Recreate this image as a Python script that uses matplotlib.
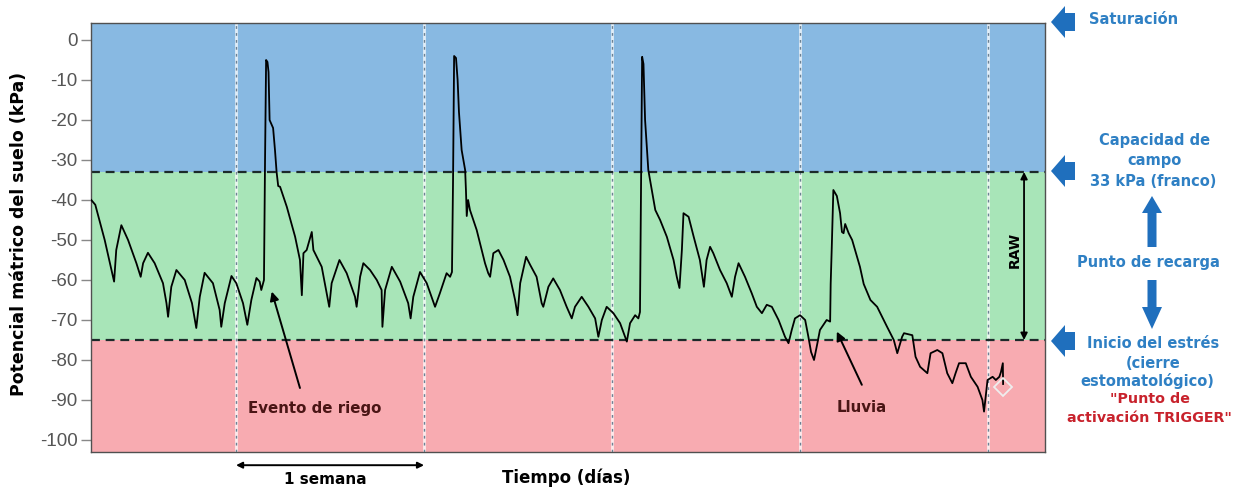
import matplotlib
matplotlib.use('Agg')
import matplotlib.pyplot as plt
from matplotlib.patches import Polygon

# ---------------- data (days, kPa) ----------------
days = [1.61, 1.76, 2.11, 2.46, 2.54, 2.73, 2.98, 3.29, 3.45, 3.54, 3.72, 3.97, 4.28, 4.41,
        4.47, 4.59, 4.78, 5.09, 5.36, 5.52, 5.65, 5.83, 6.14, 6.39, 6.45, 6.58, 6.83, 7.01,
        7.26, 7.42, 7.57, 7.76, 7.88, 7.94, 8.04,
        8.08, 8.12, 8.17, 8.21, 8.25, 8.38, 8.45, 8.51, 8.57,
        8.64, 8.89, 9.20, 9.38, 9.45, 9.51, 9.63, 9.82, 9.88, 10.19, 10.47, 10.56, 10.85,
        11.12, 11.43, 11.49, 11.62, 11.74, 11.99, 12.24, 12.42, 12.45, 12.55, 12.80, 13.11,
        13.41, 13.50, 13.60, 13.85, 14.10, 14.41, 14.59, 14.84, 14.97, 15.04,
        15.08, 15.12, 15.19, 15.25, 15.30, 15.40, 15.53, 15.56, 15.59, 15.64,
        15.71, 15.96, 16.27, 16.39, 16.46, 16.58, 16.77, 16.96, 17.20, 17.39, 17.48, 17.58,
        17.80, 17.95, 18.19, 18.38, 18.44, 18.63, 18.81, 19.06, 19.31, 19.50, 19.62, 19.87,
        20.12, 20.37, 20.49, 20.62, 20.80, 21.05, 21.30, 21.55, 21.67, 21.86, 21.98, 22.04,
        22.08, 22.12, 22.17, 22.23, 22.35, 22.48, 22.61,
        22.79, 23.04, 23.29, 23.41, 23.51, 23.60, 23.66, 23.85, 24.04, 24.27, 24.42, 24.52,
        24.65, 24.77, 25.02, 25.27, 25.46, 25.58, 25.71, 25.95, 26.20, 26.39, 26.58, 26.76,
        26.95, 27.20, 27.44, 27.57, 27.69, 27.81, 28.00, 28.19, 28.31, 28.41, 28.52, 28.64,
        28.74, 28.99, 29.12,
        29.14, 29.18, 29.24, 29.37, 29.49, 29.56, 29.62, 29.68, 29.81, 29.94, 30.12,
        30.23, 30.37, 30.62, 30.87, 31.24, 31.49, 31.62, 31.80, 31.87, 32.18, 32.30, 32.47,
        32.74, 32.86, 33.11, 33.30, 33.48, 33.67, 33.79, 33.92, 34.17, 34.36, 34.61, 34.79,
        34.85, 34.98, 35.17, 35.29, 35.42, 35.48, 35.55, 35.56]
kpa = [-40.0, -41.2, -50.0, -60.4, -52.5, -46.3, -50.0, -55.8, -59.2, -55.8, -53.2, -55.8, -60.8, -65.8,
       -69.2, -61.7, -57.5, -60.0, -65.8, -72.0, -64.2, -58.2, -60.8, -67.5, -71.7, -65.8, -59.0, -60.8,
       -65.8, -71.2, -65.0, -59.5, -60.4, -62.5, -60.0,
       -30.0, -5.0, -5.5, -8.0, -20.0, -22.0, -27.5, -33.0, -36.5,
       -36.7, -41.7, -49.2, -55.0, -63.8, -53.3, -52.5, -48.0, -52.5, -56.7, -66.7, -60.8, -55.0,
       -58.3, -64.2, -66.7, -59.2, -55.8, -57.5, -60.0, -62.5, -71.7, -62.5, -56.7, -60.4,
       -65.8, -69.6, -64.2, -58.0, -60.8, -66.7, -63.3, -58.3, -59.2, -58.0,
       -35.0, -4.0, -4.5, -10.0, -18.0, -27.5, -32.5, -37.5, -44.0, -40.0,
       -42.5, -47.5, -55.8, -58.3, -59.2, -53.3, -52.5, -55.0, -59.2, -65.0, -68.8, -60.8,
       -54.2, -56.2, -59.2, -65.8, -66.7, -61.7, -59.6, -62.5, -66.7, -69.6, -66.7, -64.2,
       -66.7, -69.6, -74.2, -70.0, -66.7, -68.3, -70.8, -75.4, -70.8, -68.8, -69.6, -68.0,
       -35.0, -4.2, -6.0, -20.0, -32.5, -37.5, -42.5,
       -45.0, -49.2, -55.0, -59.2, -62.0, -52.5, -43.3, -44.2, -49.2, -55.0, -61.7, -55.0,
       -51.7, -53.3, -57.5, -60.8, -64.2, -59.2, -55.8, -59.2, -63.3, -66.7, -68.3, -66.2,
       -66.7, -70.0, -74.2, -75.8, -72.5, -69.6, -68.8, -70.0, -74.2, -78.0, -80.0, -76.0,
       -72.5, -70.0, -70.4,
       -61.0, -52.0, -37.5, -39.0, -43.3, -48.0, -48.3, -46.0, -48.3, -50.0, -54.2,
       -56.7, -61.0, -65.0, -66.7, -71.7, -75.0, -78.3, -74.2, -73.3, -73.8, -79.2, -81.7,
       -83.3, -78.3, -77.5, -78.3, -83.3, -85.8, -83.3, -80.8, -80.8, -84.2, -86.7, -90.0,
       -92.9, -85.0, -84.2, -85.0, -84.2, -83.0, -80.8, -86.0]
last_marker = (35.55, -86.7)

field_capacity = -33
stress_onset = -75
week_lines = [7, 14, 21, 28, 35]
yticks = [0, -10, -20, -30, -40, -50, -60, -70, -80, -90, -100]

irrigation_arrow = ((9.38, -87.0), (8.33, -62.9))
rain_arrow = ((30.30, -86.2), (29.37, -72.9))

# ---------------- styling ----------------
W, H = 1242, 493
BLUE_BG = '#88b9e2'
GREEN_BG = '#a8e5b8'
PINK_BG = '#f8abb1'
TXT_BLUE = '#2f80c4'
ARROW_BLUE = '#1f6fbd'
TXT_RED = '#c8222c'
MAROON = '#4a1515'
BOLD = ['DejaVu Sans']

plt.rcParams['axes.unicode_minus'] = False
fig = plt.figure(figsize=(W / 100, H / 100), dpi=100)
fig.patch.set_facecolor('white')

L, R, T, B = 91, 1045, 23, 452
ax = fig.add_axes([L / W, 1 - B / H, (R - L) / W, (B - T) / H])
ax.set_xlim(1.60, 37.12)
ax.set_ylim(-103, 4.25)

ax.axhspan(field_capacity, 20, color=BLUE_BG, zorder=0, lw=0)
ax.axhspan(stress_onset, field_capacity, color=GREEN_BG, zorder=0, lw=0)
ax.axhspan(-120, stress_onset, color=PINK_BG, zorder=0, lw=0)

for w in week_lines:
    ax.axvline(w, color='white', lw=2.0, alpha=0.75, zorder=1)
    ax.axvline(w, color='#6d8294', lw=1.0, ls=(0, (2, 3)), zorder=1)

for h in (field_capacity, stress_onset):
    ax.axhline(h, color='#1c2a2a', lw=1.6, ls=(0, (4, 2.6)), zorder=2)

ax.plot(days, kpa, color='black', lw=1.3, zorder=3, solid_joinstyle='round')
ax.plot(*last_marker, marker='D', ms=9, mfc='none', mec='#eeeeee', mew=1.3, zorder=4)

ax.set_yticks(yticks)
ax.set_yticklabels([str(v) for v in yticks], family=['Liberation Sans', 'DejaVu Sans'],
                   fontsize=13.5, color='#555555')
ax.tick_params(axis='y', length=7, width=1, color='#888888', pad=2.5)
ax.set_xticks([])
for s in ax.spines.values():
    s.set_color('#505050')
    s.set_linewidth(1.0)

# RAW arrow
ax.annotate('', xy=(36.34, field_capacity), xytext=(36.34, stress_onset),
            arrowprops=dict(arrowstyle='<|-|>', color='black', lw=1.3, mutation_scale=10,
                            shrinkA=0, shrinkB=0), zorder=5)
ax.text(35.98, -52.5, 'RAW', rotation=90, ha='center', va='center', fontsize=10,
        fontweight='bold', family=BOLD, color='black')

# Annotations
ax.annotate('', xy=irrigation_arrow[1], xytext=irrigation_arrow[0],
            arrowprops=dict(arrowstyle='-|>', color='black', lw=1.4, mutation_scale=13,
                            shrinkA=0, shrinkB=0))
ax.text(9.94, -92, 'Evento de riego', ha='center', va='center', fontsize=10.8,
        fontweight='bold', family=BOLD, color=MAROON)
ax.annotate('', xy=rain_arrow[1], xytext=rain_arrow[0],
            arrowprops=dict(arrowstyle='-|>', color='black', lw=1.4, mutation_scale=13,
                            shrinkA=0, shrinkB=0))
ax.text(30.31, -92, 'Lluvia', ha='center', va='center', fontsize=10.8,
        fontweight='bold', family=BOLD, color=MAROON)

# 1 semana arrow below the axes
ax.annotate('', xy=(week_lines[0], -106.3), xytext=(week_lines[1], -106.3),
            arrowprops=dict(arrowstyle='<|-|>', color='black', lw=1.4, mutation_scale=9,
                            shrinkA=0, shrinkB=0), annotation_clip=False)

# ---------------- overlay in pixel coordinates ----------------
ov = fig.add_axes([0, 0, 1, 1], facecolor='none')
ov.set_xlim(0, W)
ov.set_ylim(H, 0)
ov.axis('off')

ov.text(325, 480, '1 semana', ha='center', va='center', fontsize=11, fontweight='bold',
        family=BOLD, color='black')
ov.text(566, 478, 'Tiempo (días)', ha='center', va='center', fontsize=12, fontweight='bold',
        family=BOLD, color='black')
ov.text(19, 234, 'Potencial mátrico del suelo (kPa)', rotation=90, ha='center', va='center',
        fontsize=12.5, fontweight='bold', family=BOLD, color='black')


def left_arrow(yc):
    pts = [(1051, yc), (1065, yc - 16), (1065, yc - 9), (1075, yc - 9),
           (1075, yc + 9), (1065, yc + 9), (1065, yc + 16)]
    ov.add_patch(Polygon(pts, closed=True, color=ARROW_BLUE, lw=0))


for yc in (22, 171, 341):
    left_arrow(yc)

# vertical arrows around "Punto de recarga"
xc = 1152
ov.add_patch(Polygon([(xc, 196), (xc + 10, 213), (xc + 4.5, 213), (xc + 4.5, 247),
                      (xc - 4.5, 247), (xc - 4.5, 213), (xc - 10, 213)],
                     closed=True, color=ARROW_BLUE, lw=0))
ov.add_patch(Polygon([(xc, 329), (xc + 10, 307), (xc + 4.5, 307), (xc + 4.5, 280),
                      (xc - 4.5, 280), (xc - 4.5, 307), (xc - 10, 307)],
                     closed=True, color=ARROW_BLUE, lw=0))

blue_lines = [('Saturación', 1134, 20), ('Capacidad de', 1155, 140), ('campo', 1155, 160),
              ('33 kPa (franco)', 1153, 181), ('Punto de recarga', 1148, 262),
              ('Inicio del estrés', 1153, 343), ('(cierre', 1153, 363),
              ('estomatológico)', 1147, 381)]
for txt, x, y in blue_lines:
    ov.text(x, y, txt, ha='center', va='center', fontsize=10.5, fontweight='bold',
            family=BOLD, color=TXT_BLUE)
for txt, x, y in [('"Punto de', 1150, 399), ('activación TRIGGER"', 1149, 418)]:
    ov.text(x, y, txt, ha='center', va='center', fontsize=10.3, fontweight='bold',
            family=BOLD, color=TXT_RED)

fig.savefig('out.png', dpi=100)
